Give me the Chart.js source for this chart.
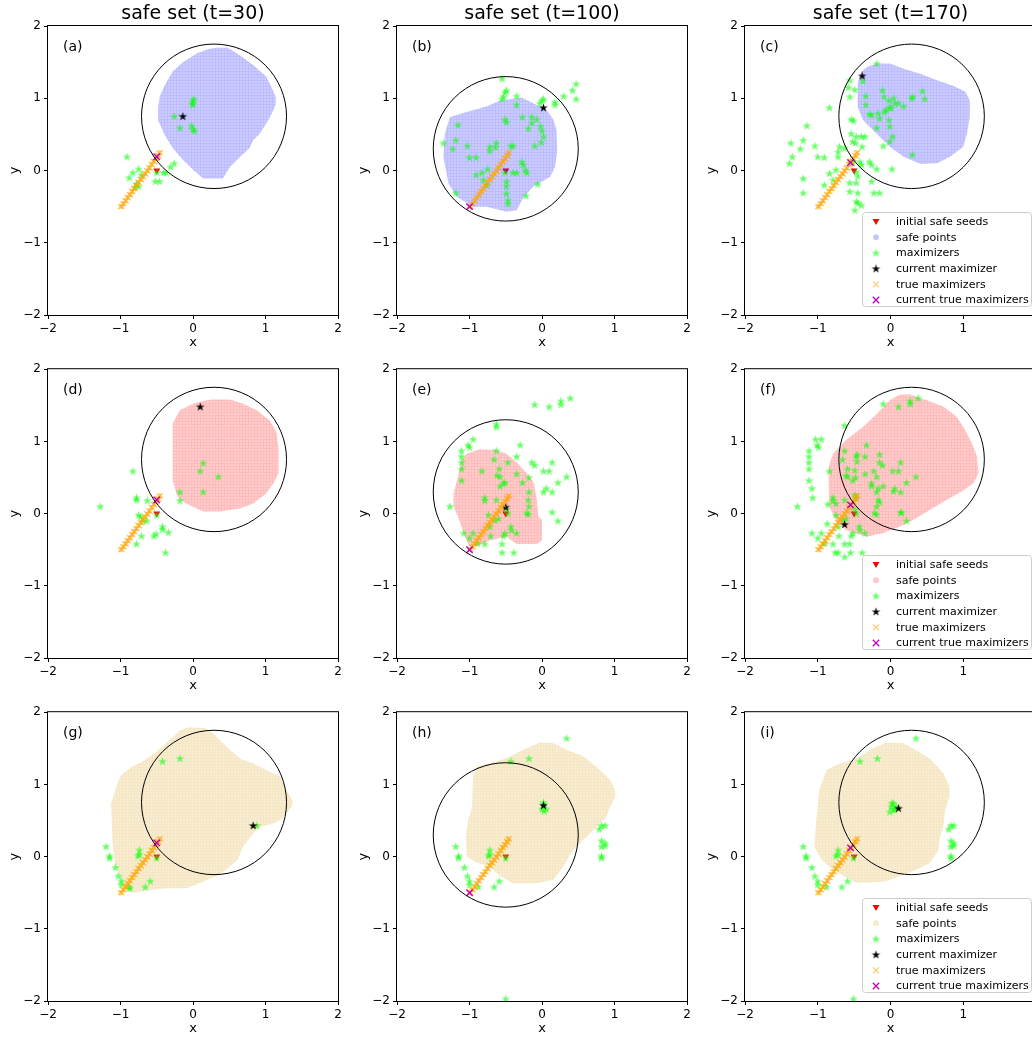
<!DOCTYPE html>
<html>
<head>
<meta charset="utf-8">
<script src="https://cdn.jsdelivr.net/npm/chart.js@4.4.0/dist/chart.umd.min.js"></script>
<style>
html, body { margin: 0; padding: 0; background: #fff; overflow: hidden; }
#wrap { position: relative; width: 1032px; height: 1038px; overflow: hidden; }
#wrap canvas { position: absolute; }
</style>
</head>
<body>
<div id="wrap"></div>
<script>
// text
const colTitles = ['safe set (t=30)', 'safe set (t=100)', 'safe set (t=170)'];
const panelLabels = ['(a)', '(b)', '(c)', '(d)', '(e)', '(f)', '(g)', '(h)', '(i)'];
const legendLabels = ['initial safe seeds', 'safe points', 'maximizers', 'current maximizer', 'true maximizers', 'current true maximizers'];
const tickValues = [-2, -1, 0, 1, 2];
const safeRGB = ['0,0,255', '255,0,0', '218,165,32'];

// shared marks
const seeds = [[-0.5, 0.0]];
const trueMax = [[-1.00,-0.50],[-0.97,-0.46],[-0.94,-0.42],[-0.91,-0.37],[-0.88,-0.33],[-0.85,-0.29],[-0.82,-0.25],[-0.79,-0.21],[-0.76,-0.16],[-0.73,-0.12],[-0.70,-0.08],[-0.67,-0.04],[-0.64,0.00],[-0.61,0.04],[-0.58,0.09],[-0.55,0.13],[-0.52,0.17],[-0.49,0.21],[-0.47,0.24],
  [-0.98,-0.50],[-0.95,-0.46],[-0.92,-0.42],[-0.89,-0.38],[-0.86,-0.34],[-0.83,-0.29],[-0.80,-0.25],[-0.77,-0.21],[-0.74,-0.17],[-0.71,-0.13],[-0.68,-0.09],[-0.65,-0.05],[-0.62,-0.01],[-0.59,0.03],[-0.56,0.08],[-0.53,0.12],[-0.50,0.16],[-0.47,0.20],[-0.45,0.25]];
const circleRight = [0.29, 0.75];
const circleLeft = [-0.5, 0.3];
const circleRadius = 1.0;

// (a)
const safeA = [[0.32,1.70],[0.48,1.70],[0.64,1.60],[0.83,1.46],[1.01,1.30],[1.08,1.16],[1.14,1.02],[1.14,0.91],[1.08,0.77],[1.01,0.65],[0.92,0.51],[0.83,0.42],[0.78,0.31],[0.65,0.19],[0.51,0.05],[0.41,-0.11],[0.14,-0.11],[0.00,0.01],[-0.14,0.15],[-0.28,0.31],[-0.39,0.49],[-0.47,0.67],[-0.48,0.88],[-0.46,1.02],[-0.39,1.18],[-0.28,1.37],[-0.14,1.50],[0.05,1.62],[0.21,1.68]];
const maxA = [[0.00,0.97],[0.01,0.99],[-0.01,0.93],[0.00,0.91],[-0.26,0.75],[-0.18,0.59],[-0.02,0.62],[0.00,0.57],[0.02,0.55],[-0.91,0.19],[-0.75,0.02],[-0.83,-0.03],[-0.88,-0.10],[-0.71,-0.06],[-0.78,-0.18],[-0.80,-0.23],[-0.75,-0.22],[-0.50,-0.03],[-0.41,-0.03],[-0.37,-0.03],[-0.31,0.05],[-0.26,0.10],[-0.52,-0.15],[-0.46,-0.15]];
const curMaxA = [[-0.14,0.75]];
const curTrueA = [[-0.50,0.19]];

// (b)
const safeB = [[-1.04,0.81],[-0.76,0.89],[-0.58,0.97],[-0.28,1.01],[-0.12,0.93],[0.06,0.84],[0.16,0.70],[0.20,0.56],[0.21,0.28],[0.18,0.05],[0.11,-0.09],[-0.12,-0.22],[-0.26,-0.38],[-0.35,-0.55],[-0.49,-0.57],[-0.76,-0.50],[-0.95,-0.50],[-1.18,-0.36],[-1.29,-0.18],[-1.36,0.19],[-1.34,0.51],[-1.27,0.74]];
const maxB = [[-0.55,1.27],[-0.49,1.11],[-0.51,1.08],[-0.53,1.02],[-0.55,0.99],[-0.35,1.03],[0.00,0.97],[0.02,0.99],[-0.03,0.93],[0.18,0.95],[0.18,0.91],[0.30,1.03],[0.42,1.11],[0.47,1.20],[0.47,0.99],[-0.35,0.91],[-1.16,0.63],[-0.51,0.71],[-0.49,0.67],[-0.27,0.74],[-0.14,0.74],[-0.14,0.66],[-0.07,0.71],[-0.19,0.58],[-0.02,0.61],[0.00,0.55],[0.02,0.47],[-0.01,0.39],[-0.10,0.34],[-1.36,0.38],[-1.19,0.42],[-1.23,0.30],[-1.03,0.34],[-0.72,0.33],[-0.72,0.27],[-0.63,0.38],[-0.64,0.32],[-0.43,0.34],[-0.40,0.34],[-1.00,0.18],[-0.91,0.18],[-0.28,0.12],[-0.26,0.08],[-0.23,0.01],[-0.21,-0.03],[-0.75,0.02],[-0.83,-0.03],[-0.91,-0.06],[-0.81,-0.13],[-0.51,-0.03],[-0.40,-0.03],[-0.35,-0.03],[-0.49,-0.15],[-0.49,-0.22],[-0.06,-0.19],[-0.22,-0.35],[-0.49,-0.32],[-0.47,-0.41],[-0.47,-0.46],[-1.19,-0.31],[-0.76,-0.20]];
const curMaxB = [[0.02,0.87]];
const curTrueB = [[-1.00,-0.50]];

// (c)
const safeC = [[-0.19,1.48],[-0.01,1.48],[0.18,1.41],[0.41,1.34],[0.64,1.25],[0.87,1.17],[1.03,1.09],[1.09,0.97],[1.09,0.74],[1.05,0.51],[1.00,0.33],[0.82,0.19],[0.64,0.10],[0.41,0.09],[0.18,0.19],[-0.01,0.33],[-0.19,0.51],[-0.38,0.70],[-0.45,0.88],[-0.45,1.21],[-0.40,1.37],[-0.31,1.44]];
const maxC = [[-0.19,1.48],[-0.38,1.24],[-0.34,1.03],[-0.34,0.91],[-0.11,1.11],[-0.09,1.02],[-0.02,0.97],[0.04,1.00],[0.06,0.93],[-0.01,0.88],[-0.06,0.84],[-0.08,0.81],[0.01,0.86],[0.11,0.93],[0.18,0.89],[0.29,1.00],[0.31,1.02],[0.44,1.10],[0.47,0.99],[-0.29,0.78],[-0.26,0.77],[-0.17,0.79],[-0.15,0.72],[-0.19,0.59],[-0.02,0.70],[-0.01,0.61],[0.03,0.47],[-0.01,0.40],[0.30,0.22],[-0.10,0.34],
  [-0.56,1.25],[-0.58,1.15],[-0.56,1.02],[-0.49,1.12],[-0.84,0.87],[-1.15,0.62],[-1.37,0.38],[-1.20,0.42],[-1.24,0.30],[-1.04,0.34],[-1.35,0.19],[-1.39,0.10],[-1.00,0.19],[-0.91,0.18],[-1.20,-0.11],[-1.20,-0.31],[-0.54,0.71],[-0.51,0.69],[-0.54,0.51],[-0.47,0.47],[-0.40,0.47],[-0.35,0.47],[-0.52,0.40],[-0.48,0.38],[-0.39,0.33],[-0.70,0.33],[-0.72,0.26],[-0.63,0.31],[-0.72,0.19],[-0.55,0.12],[-0.52,0.11],[-0.42,0.12],[-0.40,0.08],[-0.29,0.12],[-0.26,0.08],[-0.19,0.02],[0.02,0.02],[-0.47,-0.02],[-0.45,-0.08],[-0.84,-0.04],[-0.75,0.01],[-0.79,-0.13],[-0.91,-0.20],[-0.56,-0.17],[-0.47,-0.17],[-0.56,-0.29],[-0.45,-0.31],[-0.47,-0.43],[-0.45,-0.45],[-0.40,-0.48],[-0.49,-0.55],[-0.26,-0.15],[-0.23,-0.31],[-0.15,-0.31]];
const curMaxC = [[-0.39,1.31]];
const curTrueC = [[-0.55,0.11]];

// (d)
const safeD = [[0.25,1.58],[0.51,1.58],[0.69,1.52],[0.88,1.43],[1.06,1.29],[1.15,1.13],[1.18,0.92],[1.18,0.56],[1.11,0.42],[1.01,0.28],[0.83,0.14],[0.65,0.07],[0.37,0.03],[0.14,0.03],[0.00,0.09],[-0.18,0.19],[-0.23,0.28],[-0.28,0.46],[-0.28,1.25],[-0.18,1.43],[0.00,1.52],[0.14,1.56]];
const maxD = [[0.14,0.70],[0.10,0.59],[0.35,0.51],[-0.18,0.30],[0.14,0.30],[-0.18,0.18],[-0.83,0.59],[-1.28,0.10],[-0.78,0.22],[-0.78,0.19],[-0.63,0.18],[-0.75,-0.02],[-0.72,-0.04],[-0.69,-0.10],[-0.64,-0.10],[-0.71,-0.31],[-0.78,-0.42],[-0.54,-0.31],[-0.51,-0.28],[-0.50,-0.02],[-0.42,-0.18],[-0.42,-0.22],[-0.34,-0.26],[-0.38,-0.54]];
const curMaxD = [[0.10,1.48]];
const curTrueD = [[-0.50,0.19]];

// (e)
const safeE = [[-1.04,0.83],[-0.86,0.89],[-0.63,0.88],[-0.49,0.83],[-0.33,0.69],[-0.21,0.56],[-0.11,0.42],[-0.07,0.19],[-0.05,-0.04],[0.00,-0.09],[0.00,-0.37],[-0.07,-0.42],[-0.35,-0.42],[-0.49,-0.32],[-0.72,-0.37],[-0.86,-0.44],[-1.00,-0.46],[-1.06,-0.32],[-1.16,-0.04],[-1.22,0.09],[-1.22,0.28],[-1.16,0.51],[-1.11,0.74]];
const maxE = [[-0.10,1.51],[0.10,1.48],[0.26,1.56],[0.26,1.51],[0.39,1.60],[-0.63,1.24],[-0.63,1.20],[-0.95,1.03],[-1.02,0.95],[-1.00,0.92],[-1.11,0.87],[-1.11,0.79],[-1.11,0.71],[-1.11,0.62],[-1.11,0.46],[-0.30,0.95],[-0.35,0.79],[-0.63,0.87],[-0.66,0.75],[-0.47,0.71],[-0.83,0.59],[-0.59,0.62],[-0.62,0.53],[-0.58,0.51],[-0.35,0.55],[-0.18,0.50],[-0.14,0.71],[-0.10,0.67],[0.02,0.59],[0.10,0.59],[0.14,0.71],[0.34,0.51],[0.22,0.43],[0.02,0.30],[0.06,0.35],[0.14,0.30],[-0.58,0.38],[-0.53,0.42],[-0.51,0.43],[-0.27,0.43],[-0.18,0.30],[-0.19,0.19],[-0.18,0.10],[-0.21,0.01],[-0.19,-0.01],[0.14,0.02],[0.22,-0.10],[-0.79,0.22],[-0.79,0.18],[-0.63,0.19],[-1.27,0.10],[-0.74,-0.02],[-0.60,-0.07],[-0.65,-0.09],[-0.49,0.06],[-0.47,0.00],[-0.72,-0.18],[-0.71,-0.31],[-0.43,-0.18],[-0.42,-0.23],[-0.35,-0.27],[-0.51,-0.27],[-0.53,-0.31],[-1.08,-0.27],[-0.95,-0.27],[-1.00,-0.34],[-0.89,-0.41],[-0.79,-0.42],[-0.55,-0.42],[-0.55,-0.54],[-0.39,-0.54]];
const curMaxE = [[-0.50,0.09]];
const curTrueE = [[-1.00,-0.50]];

// (f)
const safeF = [[0.13,1.65],[0.27,1.65],[0.50,1.57],[0.73,1.48],[0.91,1.34],[1.03,1.15],[1.12,0.97],[1.19,0.79],[1.21,0.56],[1.14,0.42],[1.00,0.32],[0.77,0.19],[0.54,0.05],[0.31,-0.09],[0.13,-0.18],[-0.10,-0.27],[-0.33,-0.32],[-0.61,-0.23],[-0.75,-0.09],[-0.84,0.09],[-0.85,0.37],[-0.85,0.65],[-0.79,0.83],[-0.61,1.02],[-0.38,1.20],[-0.19,1.38],[-0.01,1.57]];
const maxF = [[-0.10,1.52],[0.11,1.48],[0.27,1.56],[0.27,1.52],[0.38,1.60],[-0.63,1.22],[-1.03,1.03],[-0.95,1.03],[-1.01,0.95],[-0.99,0.92],[-1.12,0.87],[-1.12,0.79],[-1.12,0.71],[-1.12,0.62],[-1.12,0.46],[-1.08,0.35],[-1.07,0.22],[-1.28,0.10],[-0.63,0.87],[-0.33,0.95],[-0.46,0.82],[-0.47,0.79],[-0.35,0.79],[-0.66,0.75],[-0.46,0.72],[-0.84,0.59],[-0.59,0.62],[-0.61,0.53],[-0.59,0.51],[-0.49,0.60],[-0.35,0.55],[-0.15,0.82],[-0.15,0.71],[-0.11,0.67],[-0.23,0.59],[-0.19,0.51],[0.03,0.59],[0.11,0.59],[0.14,0.71],[0.35,0.51],[0.22,0.43],[0.04,0.31],[0.06,0.35],[0.14,0.30],[-0.10,0.38],[-0.26,0.42],[-0.52,0.46],[-0.48,0.50],[-0.19,0.30],[-0.17,0.35],[-0.26,0.38],[-0.17,0.19],[-0.19,0.10],[-0.15,0.16],[-0.22,0.01],[-0.19,-0.01],[0.14,0.02],[0.15,0.01],[0.22,-0.10],[-0.79,0.22],[-0.79,0.18],[-0.63,0.19],[-0.75,0.14],[-0.86,0.13],[-0.49,0.26],[-0.47,0.21],[-0.75,-0.02],[-0.61,-0.07],[-0.65,-0.09],[-0.49,0.06],[-0.47,0.00],[-0.72,-0.18],[-0.71,-0.31],[-0.43,-0.18],[-0.42,-0.23],[-0.35,-0.27],[-0.52,-0.27],[-0.54,-0.31],[-1.08,-0.27],[-0.95,-0.27],[-0.87,-0.14],[-1.00,-0.34],[-0.90,-0.41],[-0.79,-0.42],[-0.76,-0.54],[-0.72,-0.54],[-0.63,-0.42],[-0.56,-0.42],[-0.63,-0.60],[-0.55,-0.54],[-0.39,-0.54]];
const curMaxF = [[-0.63,-0.15]];
const curTrueF = [[-0.55,0.12]];

// (g)
const safeG = [[-0.07,1.79],[0.16,1.78],[0.28,1.71],[0.37,1.61],[0.51,1.48],[0.65,1.36],[0.83,1.29],[1.01,1.20],[1.20,1.11],[1.31,0.88],[1.38,0.76],[1.36,0.69],[1.24,0.53],[1.11,0.46],[0.92,0.41],[0.83,0.32],[0.69,0.14],[0.62,-0.04],[0.46,-0.18],[0.32,-0.27],[0.09,-0.37],[-0.09,-0.44],[-0.37,-0.44],[-0.55,-0.46],[-0.83,-0.50],[-0.94,-0.46],[-1.01,-0.27],[-1.08,-0.09],[-1.11,0.19],[-1.13,0.74],[-1.04,1.02],[-0.99,1.13],[-0.83,1.25],[-0.69,1.32],[-0.53,1.43],[-0.37,1.57],[-0.18,1.75]];
const maxG = [[-0.42,1.32],[-0.18,1.36],[0.88,0.43],[-1.20,0.14],[-1.15,0.01],[-1.15,-0.02],[-1.07,-0.15],[-1.03,-0.27],[-0.99,-0.34],[-0.99,-0.39],[-0.88,-0.42],[-0.87,-0.44],[-0.66,-0.42],[-0.59,-0.34],[-0.74,0.09],[-0.74,0.03],[-0.76,0.01],[-0.50,-0.02]];
const curMaxG = [[0.83,0.43]];
const curTrueG = [[-0.50,0.19]];

// (h)
const safeH = [[-0.03,1.58],[0.16,1.57],[0.34,1.48],[0.57,1.39],[0.80,1.20],[0.94,1.06],[1.01,0.92],[1.01,0.83],[0.94,0.69],[0.89,0.55],[0.80,0.46],[0.71,0.37],[0.57,0.23],[0.43,0.09],[0.29,-0.14],[0.16,-0.32],[-0.07,-0.37],[-0.40,-0.37],[-0.58,-0.27],[-0.72,-0.14],[-0.90,-0.08],[-1.04,0.00],[-1.05,0.28],[-1.02,0.51],[-0.97,0.65],[-0.95,1.11],[-0.90,1.25],[-0.72,1.29],[-0.51,1.36],[-0.26,1.48]];
const maxH = [[0.34,1.64],[-0.43,1.32],[-0.18,1.36],[0.02,0.75],[0.02,0.72],[0.00,0.66],[0.03,0.63],[0.06,0.66],[0.79,0.38],[0.82,0.43],[0.87,0.43],[0.82,0.22],[0.82,0.14],[0.87,0.19],[0.87,0.15],[0.82,0.01],[0.82,-0.02],[-1.19,0.14],[-1.15,0.01],[-1.15,-0.02],[-1.07,-0.15],[-1.03,-0.27],[-1.00,-0.34],[-1.00,-0.39],[-0.88,-0.42],[-0.66,-0.42],[-0.59,-0.34],[-0.72,0.09],[-0.72,0.03],[-0.74,0.01],[-0.50,-0.02],[-0.50,-1.97]];
const curMaxH = [[0.02,0.71]];
const curTrueH = [[-1.00,-0.50]];

// (i)
const safeI = [[-0.06,1.58],[0.18,1.57],[0.34,1.48],[0.54,1.36],[0.73,1.15],[0.81,0.97],[0.81,0.83],[0.75,0.65],[0.73,0.42],[0.68,0.28],[0.66,0.09],[0.54,-0.09],[0.36,-0.18],[0.18,-0.25],[-0.06,-0.34],[-0.29,-0.36],[-0.47,-0.36],[-0.65,-0.27],[-0.84,-0.14],[-0.95,-0.04],[-1.05,0.14],[-1.02,0.51],[-0.98,0.92],[-0.88,1.20],[-0.70,1.29],[-0.47,1.36],[-0.24,1.50]];
const maxI = [[0.35,1.64],[-0.42,1.32],[-0.18,1.36],[0.04,0.74],[0.01,0.69],[0.06,0.65],[-0.01,0.62],[0.04,0.65],[0.08,0.69],[0.02,0.74],[0.80,0.38],[0.83,0.43],[0.87,0.43],[0.83,0.22],[0.83,0.14],[0.87,0.19],[0.87,0.15],[0.83,0.01],[0.83,-0.02],[-1.20,0.14],[-1.16,0.01],[-1.16,-0.02],[-1.08,-0.15],[-1.04,-0.27],[-1.00,-0.34],[-1.00,-0.39],[-0.88,-0.42],[-0.67,-0.42],[-0.59,-0.34],[-0.72,0.09],[-0.72,0.03],[-0.75,0.01],[-0.51,-0.02],[-0.51,-1.97]];
const curMaxI = [[0.11,0.67]];
const curTrueI = [[-0.55,0.12]];

const panels = [
  {safe: safeA, max: maxA, cur: curMaxA, curTrue: curTrueA, circle: circleRight},
  {safe: safeB, max: maxB, cur: curMaxB, curTrue: curTrueB, circle: circleLeft},
  {safe: safeC, max: maxC, cur: curMaxC, curTrue: curTrueC, circle: circleRight},
  {safe: safeD, max: maxD, cur: curMaxD, curTrue: curTrueD, circle: circleRight},
  {safe: safeE, max: maxE, cur: curMaxE, curTrue: curTrueE, circle: circleLeft},
  {safe: safeF, max: maxF, cur: curMaxF, curTrue: curTrueF, circle: circleRight},
  {safe: safeG, max: maxG, cur: curMaxG, curTrue: curTrueG, circle: circleRight},
  {safe: safeH, max: maxH, cur: curMaxH, curTrue: curTrueH, circle: circleLeft},
  {safe: safeI, max: maxI, cur: curMaxI, curTrue: curTrueI, circle: circleRight}
];

// layout
const plotLefts = [48, 397, 745];
const plotTops = [26, 369, 712];
const plotWidths = [290, 290, 291];
const plotHeight = 289;

const FONT = '"DejaVu Sans", sans-serif';
Chart.defaults.font.family = FONT;
Chart.defaults.color = '#000';

function starImage(color) {
  const c = document.createElement('canvas');
  c.width = 11; c.height = 11;
  const g = c.getContext('2d');
  const R = 4.6, r = R * 0.382;
  g.beginPath();
  for (let k = 0; k < 10; k++) {
    const a = -Math.PI / 2 + k * Math.PI / 5;
    const rr = k % 2 ? r : R;
    const px = 5.5 + rr * Math.cos(a), py = 5.8 + rr * Math.sin(a);
    if (k) g.lineTo(px, py); else g.moveTo(px, py);
  }
  g.closePath();
  g.fillStyle = color;
  g.fill();
  return c;
}
const greenStar = starImage('rgba(0,255,0,0.6)');
const blackStar = starImage('#000');

// grid-of-dots texture for the safe sets
function safePattern(rgb) {
  const t = document.createElement('canvas');
  t.width = 3; t.height = 3;
  const g = t.getContext('2d');
  g.fillStyle = 'rgba(' + rgb + ',0.2)';
  g.fillRect(0, 0, 3, 3);
  g.fillStyle = 'rgba(' + rgb + ',0.08)';
  g.fillRect(2, 0, 1, 3);
  g.fillRect(0, 2, 2, 1);
  return g.createPattern(t, 'repeat');
}

function pts(a) { return a.map(p => ({x: p[0], y: p[1]})); }

function drawX(ctx, x, y, s, color, lw) {
  ctx.beginPath();
  ctx.moveTo(x - s, y - s); ctx.lineTo(x + s, y + s);
  ctx.moveTo(x - s, y + s); ctx.lineTo(x + s, y - s);
  ctx.strokeStyle = color; ctx.lineWidth = lw; ctx.stroke();
}

const panelDeco = {
  id: 'panelDeco',
  afterDatasetsDraw(chart, args, o) {
    const {ctx, chartArea: a, scales: {x, y}} = chart;
    ctx.save();
    ctx.beginPath(); ctx.rect(a.left, a.top, a.width, a.height); ctx.clip();
    const cx = x.getPixelForValue(o.circle[0]);
    const cy = y.getPixelForValue(o.circle[1]);
    const rx = x.getPixelForValue(o.circle[0] + circleRadius) - cx;
    const ry = cy - y.getPixelForValue(o.circle[1] + circleRadius);
    ctx.beginPath();
    ctx.ellipse(cx, cy, rx, ry, 0, 0, 2 * Math.PI);
    ctx.strokeStyle = '#000'; ctx.lineWidth = 1;
    ctx.stroke();
    ctx.restore();
  },
  afterDraw(chart, args, o) {
    const {ctx, chartArea: a} = chart;
    ctx.save();
    // axes frame
    ctx.strokeStyle = '#000'; ctx.lineWidth = 1;
    ctx.strokeRect(a.left - 0.5, a.top - 0.5, a.width + 1, a.height + 1);
    // panel letter
    ctx.fillStyle = '#000';
    ctx.font = '14px ' + FONT;
    ctx.textAlign = 'left'; ctx.textBaseline = 'middle';
    ctx.fillText(o.label, a.left + 15, a.top + 21);
    // column title
    if (o.title) {
      ctx.font = '19px ' + FONT;
      ctx.textAlign = 'center';
      ctx.fillText(o.title, (a.left + a.right) / 2, a.top - 12);
    }
    // legend
    if (o.legend) {
      const w = 169, h = 94;
      const lx = a.right - 5 - w, ly = a.bottom - 9 - h;
      ctx.beginPath();
      ctx.roundRect(lx + 0.5, ly + 0.5, w, h, 3);
      ctx.fillStyle = 'rgba(255,255,255,0.8)'; ctx.fill();
      ctx.strokeStyle = '#cccccc'; ctx.stroke();
      ctx.font = '11px ' + FONT;
      ctx.textAlign = 'left'; ctx.textBaseline = 'middle';
      legendLabels.forEach((txt, k) => {
        const my = ly + 9.5 + k * 15.7;
        const mx = lx + 14;
        if (k === 0) {
          ctx.beginPath();
          ctx.moveTo(mx - 3.5, my - 2.4); ctx.lineTo(mx + 3.5, my - 2.4); ctx.lineTo(mx, my + 3.6);
          ctx.closePath(); ctx.fillStyle = '#ff0000'; ctx.fill();
        } else if (k === 1) {
          ctx.beginPath(); ctx.arc(mx, my, 3, 0, 2 * Math.PI);
          ctx.fillStyle = 'rgba(' + o.safeRGB + ',0.22)'; ctx.fill();
        } else if (k === 2) {
          ctx.drawImage(greenStar, mx - 5.5, my - 5.5);
        } else if (k === 3) {
          ctx.drawImage(blackStar, mx - 5.5, my - 5.5);
        } else if (k === 4) {
          drawX(ctx, mx, my, 3, 'rgba(255,165,0,0.6)', 1.2);
        } else {
          drawX(ctx, mx, my, 3.2, '#bf00bf', 1.3);
        }
        ctx.fillStyle = '#000';
        ctx.fillText(txt, lx + 34, my + 0.5);
      });
    }
    ctx.restore();
  }
};

const fmt = v => String(v).replace('-', '\u2212');
const wrap = document.getElementById('wrap');

panels.forEach((p, i) => {
  const r = Math.floor(i / 3), c = i % 3;
  const padTop = r === 0 ? 26 : 10;
  const cv = document.createElement('canvas');
  cv.width = 48 + plotWidths[c] + 10;
  cv.height = padTop + plotHeight + 35;
  cv.style.left = (plotLefts[c] - 48) + 'px';
  cv.style.top = (plotTops[r] - padTop) + 'px';
  wrap.appendChild(cv);

  const axis = (title, isX) => ({
    type: 'linear', min: -2, max: 2,
    afterBuildTicks: s => { s.ticks = tickValues.map(v => ({value: v})); },
    ticks: {callback: fmt, padding: 3, font: {size: 12}, maxRotation: 0, autoSkip: false},
    grid: {display: true, drawOnChartArea: false, drawTicks: true, tickLength: 4, color: '#000', lineWidth: 1},
    border: {display: false},
    title: {display: true, text: title, font: {size: 13},
      padding: isX ? {top: 0, bottom: 0} : {top: 7, bottom: 0}},
    afterFit: s => { if (isX) s.height = 35; else s.width = 48; }
  });

  new Chart(cv, {
    type: 'scatter',
    data: {
      datasets: [
        {data: pts(seeds), pointStyle: 'triangle', rotation: 180, pointRadius: 4,
          backgroundColor: '#ff0000', borderWidth: 0, order: 6},
        {type: 'line', data: pts(p.safe), fill: 'shape', backgroundColor: safePattern(safeRGB[r]),
          borderWidth: 0, pointRadius: 0, tension: 0, order: 5},
        {data: pts(p.max), pointStyle: greenStar, pointRadius: 3, order: 4},
        {data: pts(p.cur), pointStyle: blackStar, pointRadius: 3, order: 3},
        {data: pts(trueMax), pointStyle: 'crossRot', pointRadius: 3.4,
          borderColor: 'rgba(255,165,0,0.65)', borderWidth: 1.2, order: 2},
        {data: pts(p.curTrue), pointStyle: 'crossRot', pointRadius: 4.5,
          borderColor: '#bf00bf', borderWidth: 1.4, order: 1}
      ]
    },
    options: {
      responsive: false,
      animation: false,
      events: [],
      layout: {padding: {left: 0, top: padTop, right: 10, bottom: 0}},
      scales: {x: axis('x', true), y: axis('y', false)},
      plugins: {
        legend: {display: false},
        tooltip: {enabled: false},
        panelDeco: {
          label: panelLabels[i],
          title: r === 0 ? colTitles[c] : null,
          legend: c === 2,
          safeRGB: safeRGB[r],
          circle: p.circle
        }
      }
    },
    plugins: [panelDeco]
  });
});
</script>
</body>
</html>
